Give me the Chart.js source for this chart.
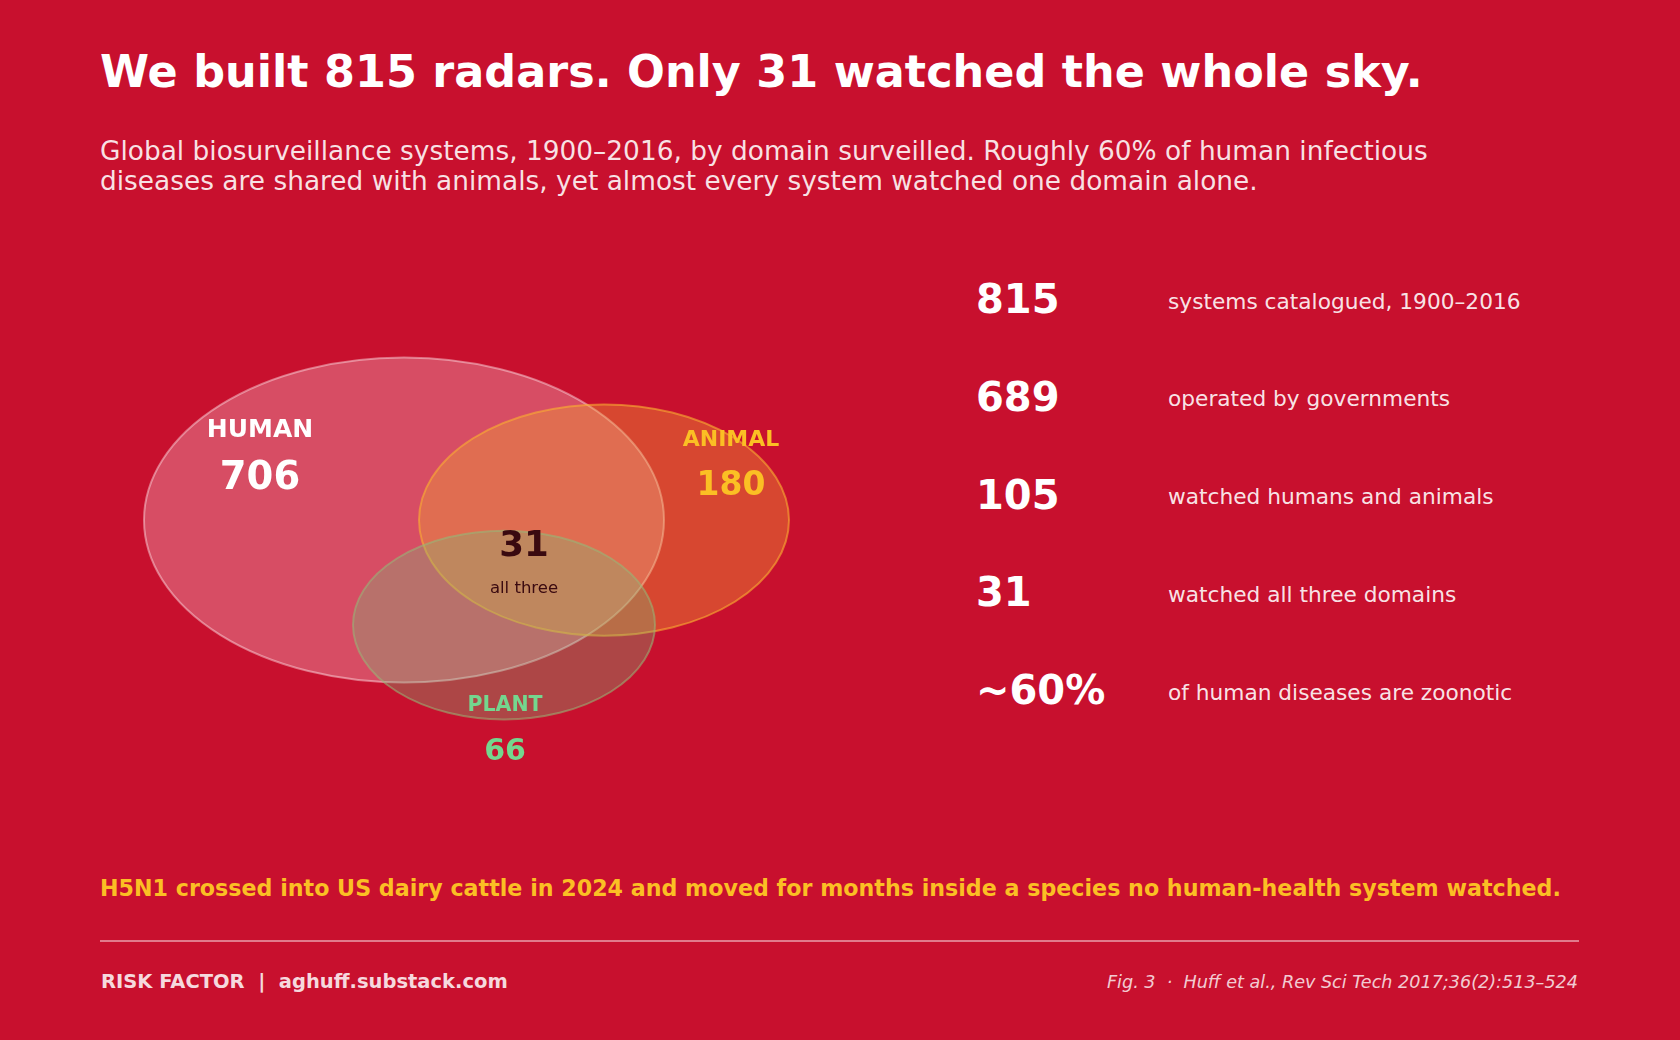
<!DOCTYPE html>
<html>
<head>
<meta charset="utf-8">
<script src="https://cdn.jsdelivr.net/npm/chart.js@4.4.1/dist/chart.umd.min.js"></script>
<style>
  html, body { margin: 0; padding: 0; }
  body {
    width: 1680px; height: 1040px; background: #C8102E; position: relative; overflow: hidden;
    font-family: "DejaVu Sans", sans-serif; color: #fff;
  }
  .abs { position: absolute; white-space: nowrap; line-height: 1.2; }
  #title { left: 100px; top: 45px; font-size: 44.5px; font-weight: bold; }
  #subtitle { left: 100px; top: 136px; font-size: 26.4px; line-height: 30px; color: rgba(255,255,255,0.88); }
  #venn { position: absolute; left: 100px; top: 250px; }
  .num { font-size: 40px; font-weight: bold; left: 976px; }
  .desc { font-size: 21.7px; left: 1168px; color: rgba(255,255,255,0.9); }
  #note { left: 100px; top: 875px; font-size: 22.2px; font-weight: bold; color: #FBBF24; }
  #rule { position: absolute; left: 100px; top: 940px; width: 1479px; height: 2px; background: rgba(255,255,255,0.45); }
  #brand { left: 101px; top: 970px; font-size: 19.5px; font-weight: bold; color: rgba(255,255,255,0.85); white-space: pre; }
  #cite { right: 102px; top: 972px; font-size: 17.6px; font-style: italic; color: rgba(255,255,255,0.8); white-space: pre; }
</style>
</head>
<body>
<div id="title" class="abs">We built 815 radars. Only 31 watched the whole sky.</div>
<div id="subtitle" class="abs">Global biosurveillance systems, 1900–2016, by domain surveilled. Roughly 60% of human infectious<br>diseases are shared with animals, yet almost every system watched one domain alone.</div>
<canvas id="venn" width="800" height="600"></canvas>
<div id="stats"></div>
<div id="note" class="abs">H5N1 crossed into US dairy cattle in 2024 and moved for months inside a species no human-health system watched.</div>
<div id="rule"></div>
<div id="brand" class="abs">RISK FACTOR  |  aghuff.substack.com</div>
<div id="cite" class="abs">Fig. 3  ·  Huff et al., Rev Sci Tech 2017;36(2):513–524</div>
<script>
// Venn sets
const setNames = ['HUMAN', 'ANIMAL', 'PLANT'];
const setCounts = [706, 180, 66];
const centerX = [-0.24, 0.26, 0.01];
const centerY = [0.12, 0.12, -0.30];
const radius = [0.65, 0.4625, 0.3775];
const labelX = [-0.6, 0.5775, 0.0125];
const labelY = [0.48, 0.44, -0.624];
const allThree = 31;

// right-hand stats
const statValues = ['815', '689', '105', '31', '~60%'];
const statLabels = [
  'systems catalogued, 1900–2016',
  'operated by governments',
  'watched humans and animals',
  'watched all three domains',
  'of human diseases are zoonotic'
];

const fills = ['rgba(255,236,240,0.28)', 'rgba(240,162,52,0.38)', 'rgba(113,196,126,0.30)'];
const strokes = ['rgba(255,230,235,0.45)', 'rgba(250,175,50,0.6)', 'rgba(150,185,120,0.55)'];
const labelColors = ['#FFFFFF', '#FBBF24', '#74D68E'];
const nameSizes = [25, 22, 20.5];
const countSizes = [38.5, 33, 30];
const countGaps = [49, 46, 46];

const stats = document.getElementById('stats');
statValues.forEach(function(v, i) {
  const n = document.createElement('div');
  n.className = 'abs num';
  n.style.top = (275 + i * 97.8) + 'px';
  n.textContent = v;
  stats.appendChild(n);
  const d = document.createElement('div');
  d.className = 'abs desc';
  d.style.top = (288.5 + i * 97.8) + 'px';
  d.textContent = statLabels[i];
  stats.appendChild(d);
});

const vennPlugin = {
  id: 'venn',
  afterDatasetsDraw: function(chart) {
    const ctx = chart.ctx;
    const xs = chart.scales.x, ys = chart.scales.y;
    const unitX = Math.abs(xs.getPixelForValue(1) - xs.getPixelForValue(0));
    const unitY = Math.abs(ys.getPixelForValue(1) - ys.getPixelForValue(0));
    ctx.save();
    chart.data.datasets.forEach(function(ds, i) {
      const p = ds.data[0];
      ctx.beginPath();
      ctx.ellipse(xs.getPixelForValue(p.x), ys.getPixelForValue(p.y),
        ds.r * unitX, ds.r * unitY, 0, 0, Math.PI * 2);
      ctx.fillStyle = fills[i];
      ctx.fill();
      ctx.lineWidth = 2;
      ctx.strokeStyle = strokes[i];
      ctx.stroke();
    });
    ctx.textAlign = 'center';
    ctx.textBaseline = 'middle';
    setNames.forEach(function(name, i) {
      const px = xs.getPixelForValue(labelX[i]);
      const py = ys.getPixelForValue(labelY[i]);
      ctx.fillStyle = labelColors[i];
      ctx.font = 'bold ' + nameSizes[i] + 'px "DejaVu Sans"';
      ctx.fillText(name, px, py);
      ctx.font = 'bold ' + countSizes[i] + 'px "DejaVu Sans"';
      ctx.fillText(String(setCounts[i]), px, py + countGaps[i]);
    });
    const cx = xs.getPixelForValue(0.06), cy = ys.getPixelForValue(0.012);
    ctx.fillStyle = '#3A0A10';
    ctx.font = 'bold 35.6px "DejaVu Sans"';
    ctx.fillText(String(allThree), cx, cy);
    ctx.font = '16.5px "DejaVu Sans"';
    ctx.fillText('all three', cx, cy + 42);
    ctx.restore();
  }
};

new Chart(document.getElementById('venn'), {
  type: 'scatter',
  data: {
    datasets: setNames.map(function(name, i) {
      return { label: name, data: [{ x: centerX[i], y: centerY[i] }], r: radius[i], pointRadius: 0 };
    })
  },
  options: {
    responsive: false,
    animation: false,
    layout: { padding: 0 },
    plugins: { legend: { display: false }, tooltip: { enabled: false } },
    scales: {
      x: { type: 'linear', min: -1, max: 1, display: false },
      y: { type: 'linear', min: -1.2, max: 1.2, display: false }
    }
  },
  plugins: [vennPlugin]
});
</script>
</body>
</html>
